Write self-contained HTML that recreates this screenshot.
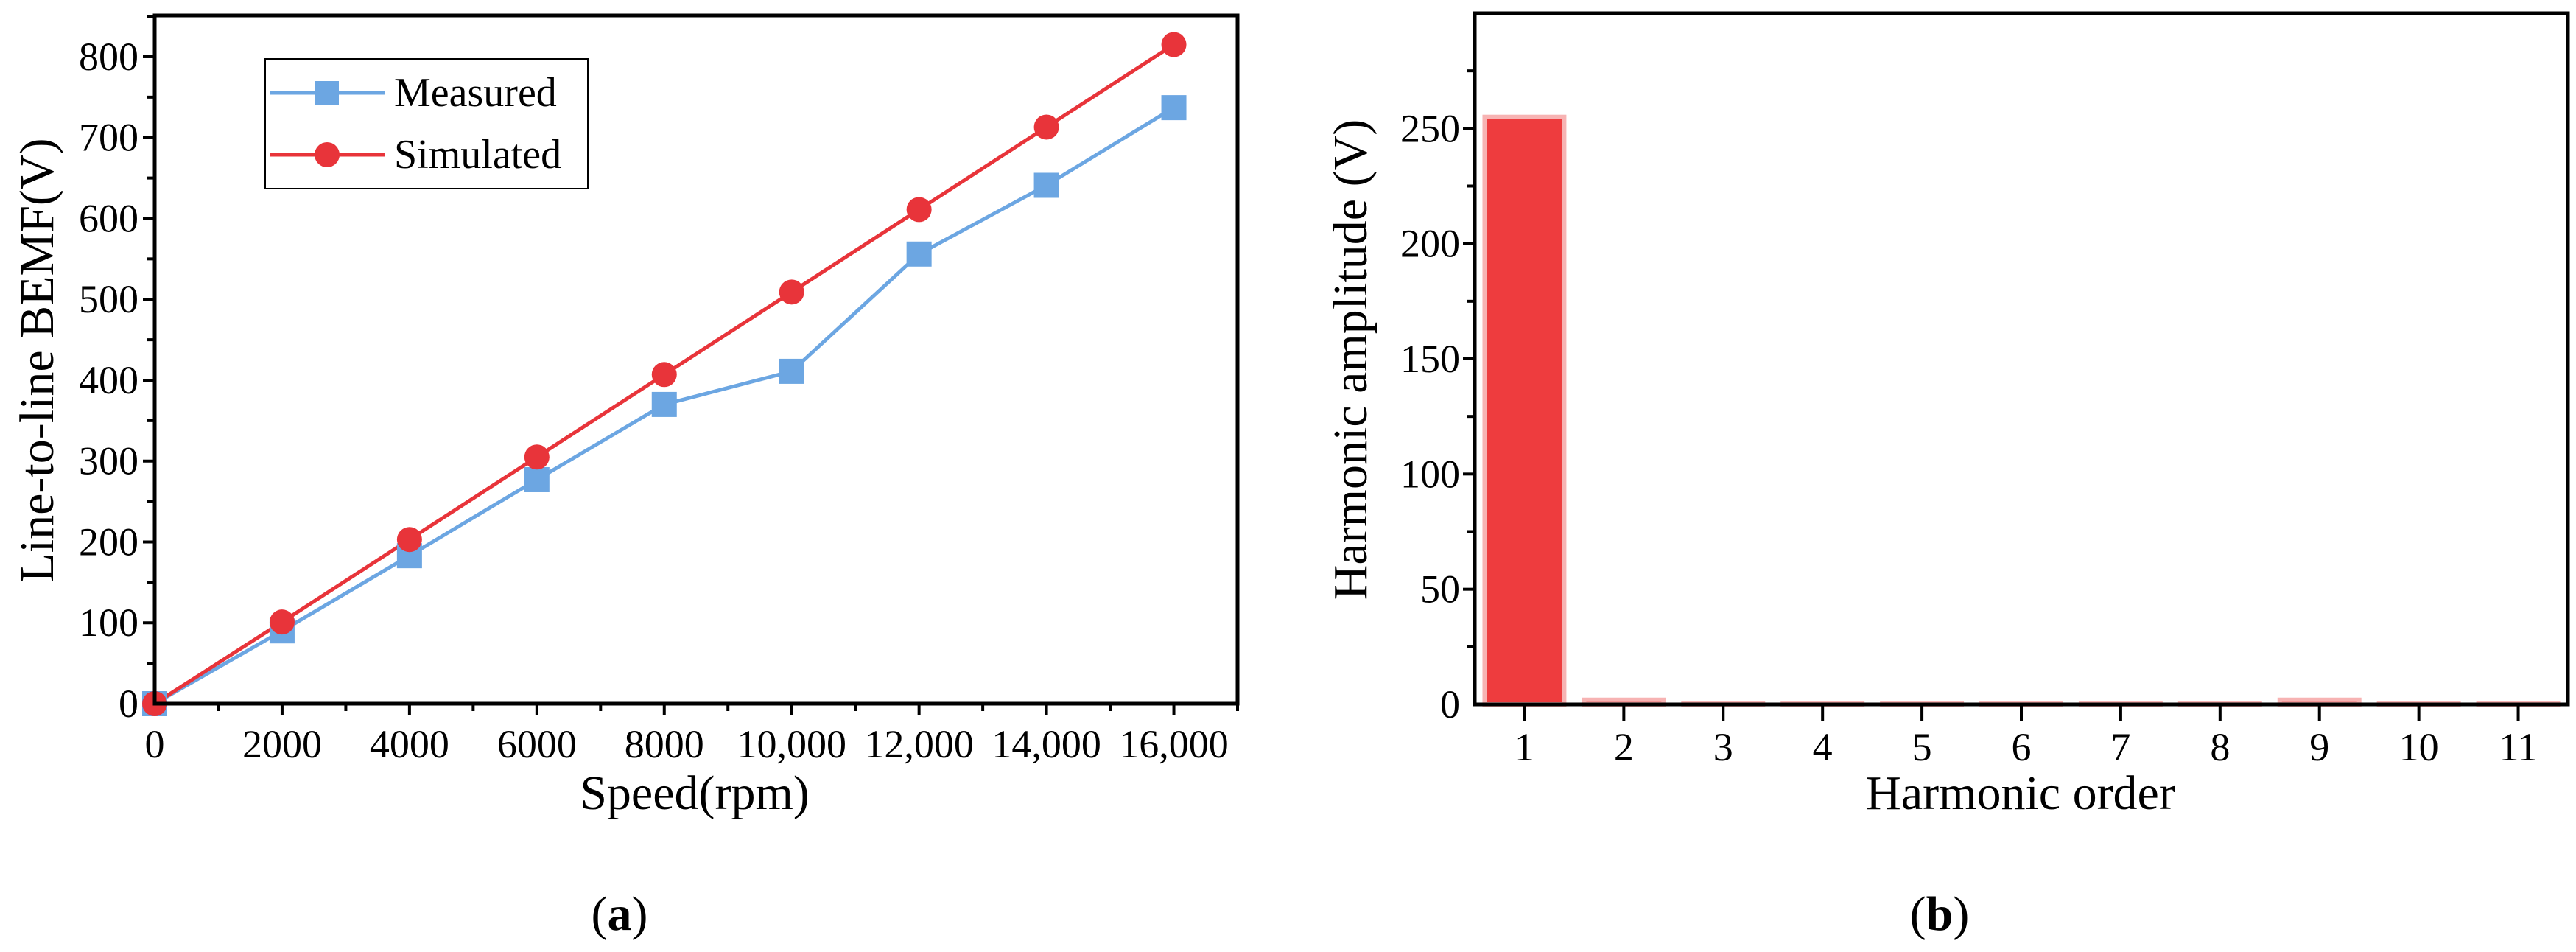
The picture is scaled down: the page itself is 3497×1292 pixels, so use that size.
<!DOCTYPE html>
<html><head><meta charset="utf-8"><style>
html,body{margin:0;padding:0;background:#fff;}
svg{display:block;font-family:"Liberation Serif",serif;}
</style></head><body>
<svg id="fig" width="3497" height="1292" viewBox="0 0 3497 1292" xmlns="http://www.w3.org/2000/svg"></svg>
<script>
const speeds=[0,2000,4000,6000,8000,10000,12000,14000,16000];
const measured=[0,90,183,277,370,411,556,641,737];
const simulated=[0,101,203,305,407,509,611,713,815];
const xTicksA=[0,2000,4000,6000,8000,10000,12000,14000,16000];
const xTickLabelsA=["0","2000","4000","6000","8000","10,000","12,000","14,000","16,000"];
const yTicksA=[0,100,200,300,400,500,600,700,800];
const orders=[1,2,3,4,5,6,7,8,9,10,11];
const amplitudes=[255,2,0.3,0.2,0.6,0.2,0.5,0.4,2,0.2,0.2];
const yTicksB=[0,50,100,150,200,250];

const NS="http://www.w3.org/2000/svg";
const svg=document.getElementById('fig');
function el(tag,attrs,parent,text){const e=document.createElementNS(NS,tag);for(const k in attrs)e.setAttribute(k,attrs[k]);if(text!==undefined)e.textContent=text;(parent||svg).appendChild(e);return e;}

// ---------- Chart A ----------
const A={l:210,r:1680,t:21,b:955,x0:0,x1:17000,y0:0,y1:851};
const xa=v=>A.l+(v-A.x0)/(A.x1-A.x0)*(A.r-A.l);
const ya=v=>A.b-(v-A.y0)/(A.y1-A.y0)*(A.b-A.t);
const gA=el('g',{});


for(let v=1000;v<=17000;v+=1000){const major=v%2000===0;const t=el('line',{x1:xa(v),x2:xa(v),y1:A.b,y2:A.b+(major?16:10),stroke:'#000','stroke-width':4},gA);}
for(let v=50;v<=850;v+=50){const major=v%100===0;const t=el('line',{x1:A.l,x2:A.l-(major?16:10),y1:ya(v),y2:ya(v),stroke:'#000','stroke-width':4},gA);}
xTicksA.forEach((v,i)=>{const t=el('text',{x:xa(v),y:1028,'font-size':54,'text-anchor':'middle'},gA,xTickLabelsA[i]);});
yTicksA.forEach(v=>{const t=el('text',{x:A.l-22,y:ya(v)+18,'font-size':54,'text-anchor':'end'},gA,String(v));});
const pm=el('polyline',{points:speeds.map((s,i)=>xa(s)+','+ya(measured[i])).join(' '),fill:'none',stroke:'#6ca6e2','stroke-width':5},gA);

const ps=el('polyline',{points:speeds.map((s,i)=>xa(s)+','+ya(simulated[i])).join(' '),fill:'none',stroke:'#e8343a','stroke-width':5},gA);

speeds.forEach((s,i)=>{const m=el('rect',{x:xa(s)-17,y:ya(measured[i])-17,width:34,height:34,fill:'#6ca6e2'},gA);});
speeds.forEach((s,i)=>{const m=el('circle',{cx:xa(s),cy:ya(simulated[i]),r:17,fill:'#e8343a'},gA);});
const fa=el('rect',{x:A.l,y:A.t,width:A.r-A.l,height:A.b-A.t,fill:'none',stroke:'#000','stroke-width':5},gA);

// legend
const lg=el('g',{},gA);
el('rect',{x:360,y:80,width:438,height:176,fill:'#fff',stroke:'#000','stroke-width':2},lg);
el('line',{x1:367,x2:522,y1:126,y2:126,stroke:'#6ca6e2','stroke-width':5},lg);
el('rect',{x:428,y:110,width:32,height:32,fill:'#6ca6e2'},lg);
const l1=el('text',{x:535,y:144,'font-size':56},lg,'Measured');
el('line',{x1:367,x2:522,y1:210,y2:210,stroke:'#e8343a','stroke-width':5},lg);
el('circle',{cx:444,cy:210,r:17,fill:'#e8343a'},lg);
const l2=el('text',{x:535,y:228,'font-size':56},lg,'Simulated');
const xtA=el('text',{x:943,y:1098,'font-size':66,'text-anchor':'middle'},gA,'Speed(rpm)');
const ytA=el('text',{x:0,y:0,'font-size':66,'text-anchor':'middle',transform:'translate(72,489) rotate(-90)'},gA,'Line-to-line BEMF(V)');
const capA=el('text',{x:841,y:1262,'font-size':66,'text-anchor':'middle'},gA,'');
el('tspan',{},capA,'(');el('tspan',{'font-weight':'bold'},capA,'a');el('tspan',{},capA,')');

// ---------- Chart B ----------
const B={l:2002,r:3486,t:18,b:956,x0:0.5,x1:11.5,y0:0,y1:300};
const xb=v=>B.l+(v-B.x0)/(B.x1-B.x0)*(B.r-B.l);
const yb=v=>B.b-(v-B.y0)/(B.y1-B.y0)*(B.b-B.t);
const gB=el('g',{});


const bw=(xb(2)-xb(1))*0.8;
orders.forEach((o,i)=>{const h=Math.max(B.b-yb(amplitudes[i]),1);const r=el('rect',{x:xb(o)-bw/2,y:B.b-h,width:bw,height:h,fill:'#ee3c3e',stroke:'#f7b3b3','stroke-width':6},gB);});
orders.forEach(o=>{const t=el('line',{x1:xb(o),x2:xb(o),y1:B.b,y2:B.b+22,stroke:'#000','stroke-width':4},gB);
const lb=el('text',{x:xb(o),y:1032,'font-size':54,'text-anchor':'middle'},gB,String(o));});
for(let v=25;v<=275;v+=25){const major=v%50===0;const t=el('line',{x1:B.l,x2:B.l-(major?16:10),y1:yb(v),y2:yb(v),stroke:'#000','stroke-width':4},gB);}
yTicksB.forEach(v=>{const t=el('text',{x:B.l-20,y:yb(v)+18,'font-size':54,'text-anchor':'end'},gB,String(v));});
const fb=el('rect',{x:B.l,y:B.t,width:B.r-B.l,height:B.b-B.t,fill:'none',stroke:'#000','stroke-width':5},gB);

const xtB=el('text',{x:2743,y:1098,'font-size':66,'text-anchor':'middle'},gB,'Harmonic order');
const ytB=el('text',{x:0,y:0,'font-size':66,'text-anchor':'middle',transform:'translate(1855,488) rotate(-90)'},gB,'Harmonic amplitude (V)');
const capB=el('text',{x:2633,y:1262,'font-size':66,'text-anchor':'middle'},gB,'');
el('tspan',{},capB,'(');el('tspan',{'font-weight':'bold'},capB,'b');el('tspan',{},capB,')');
</script>
</body></html>
